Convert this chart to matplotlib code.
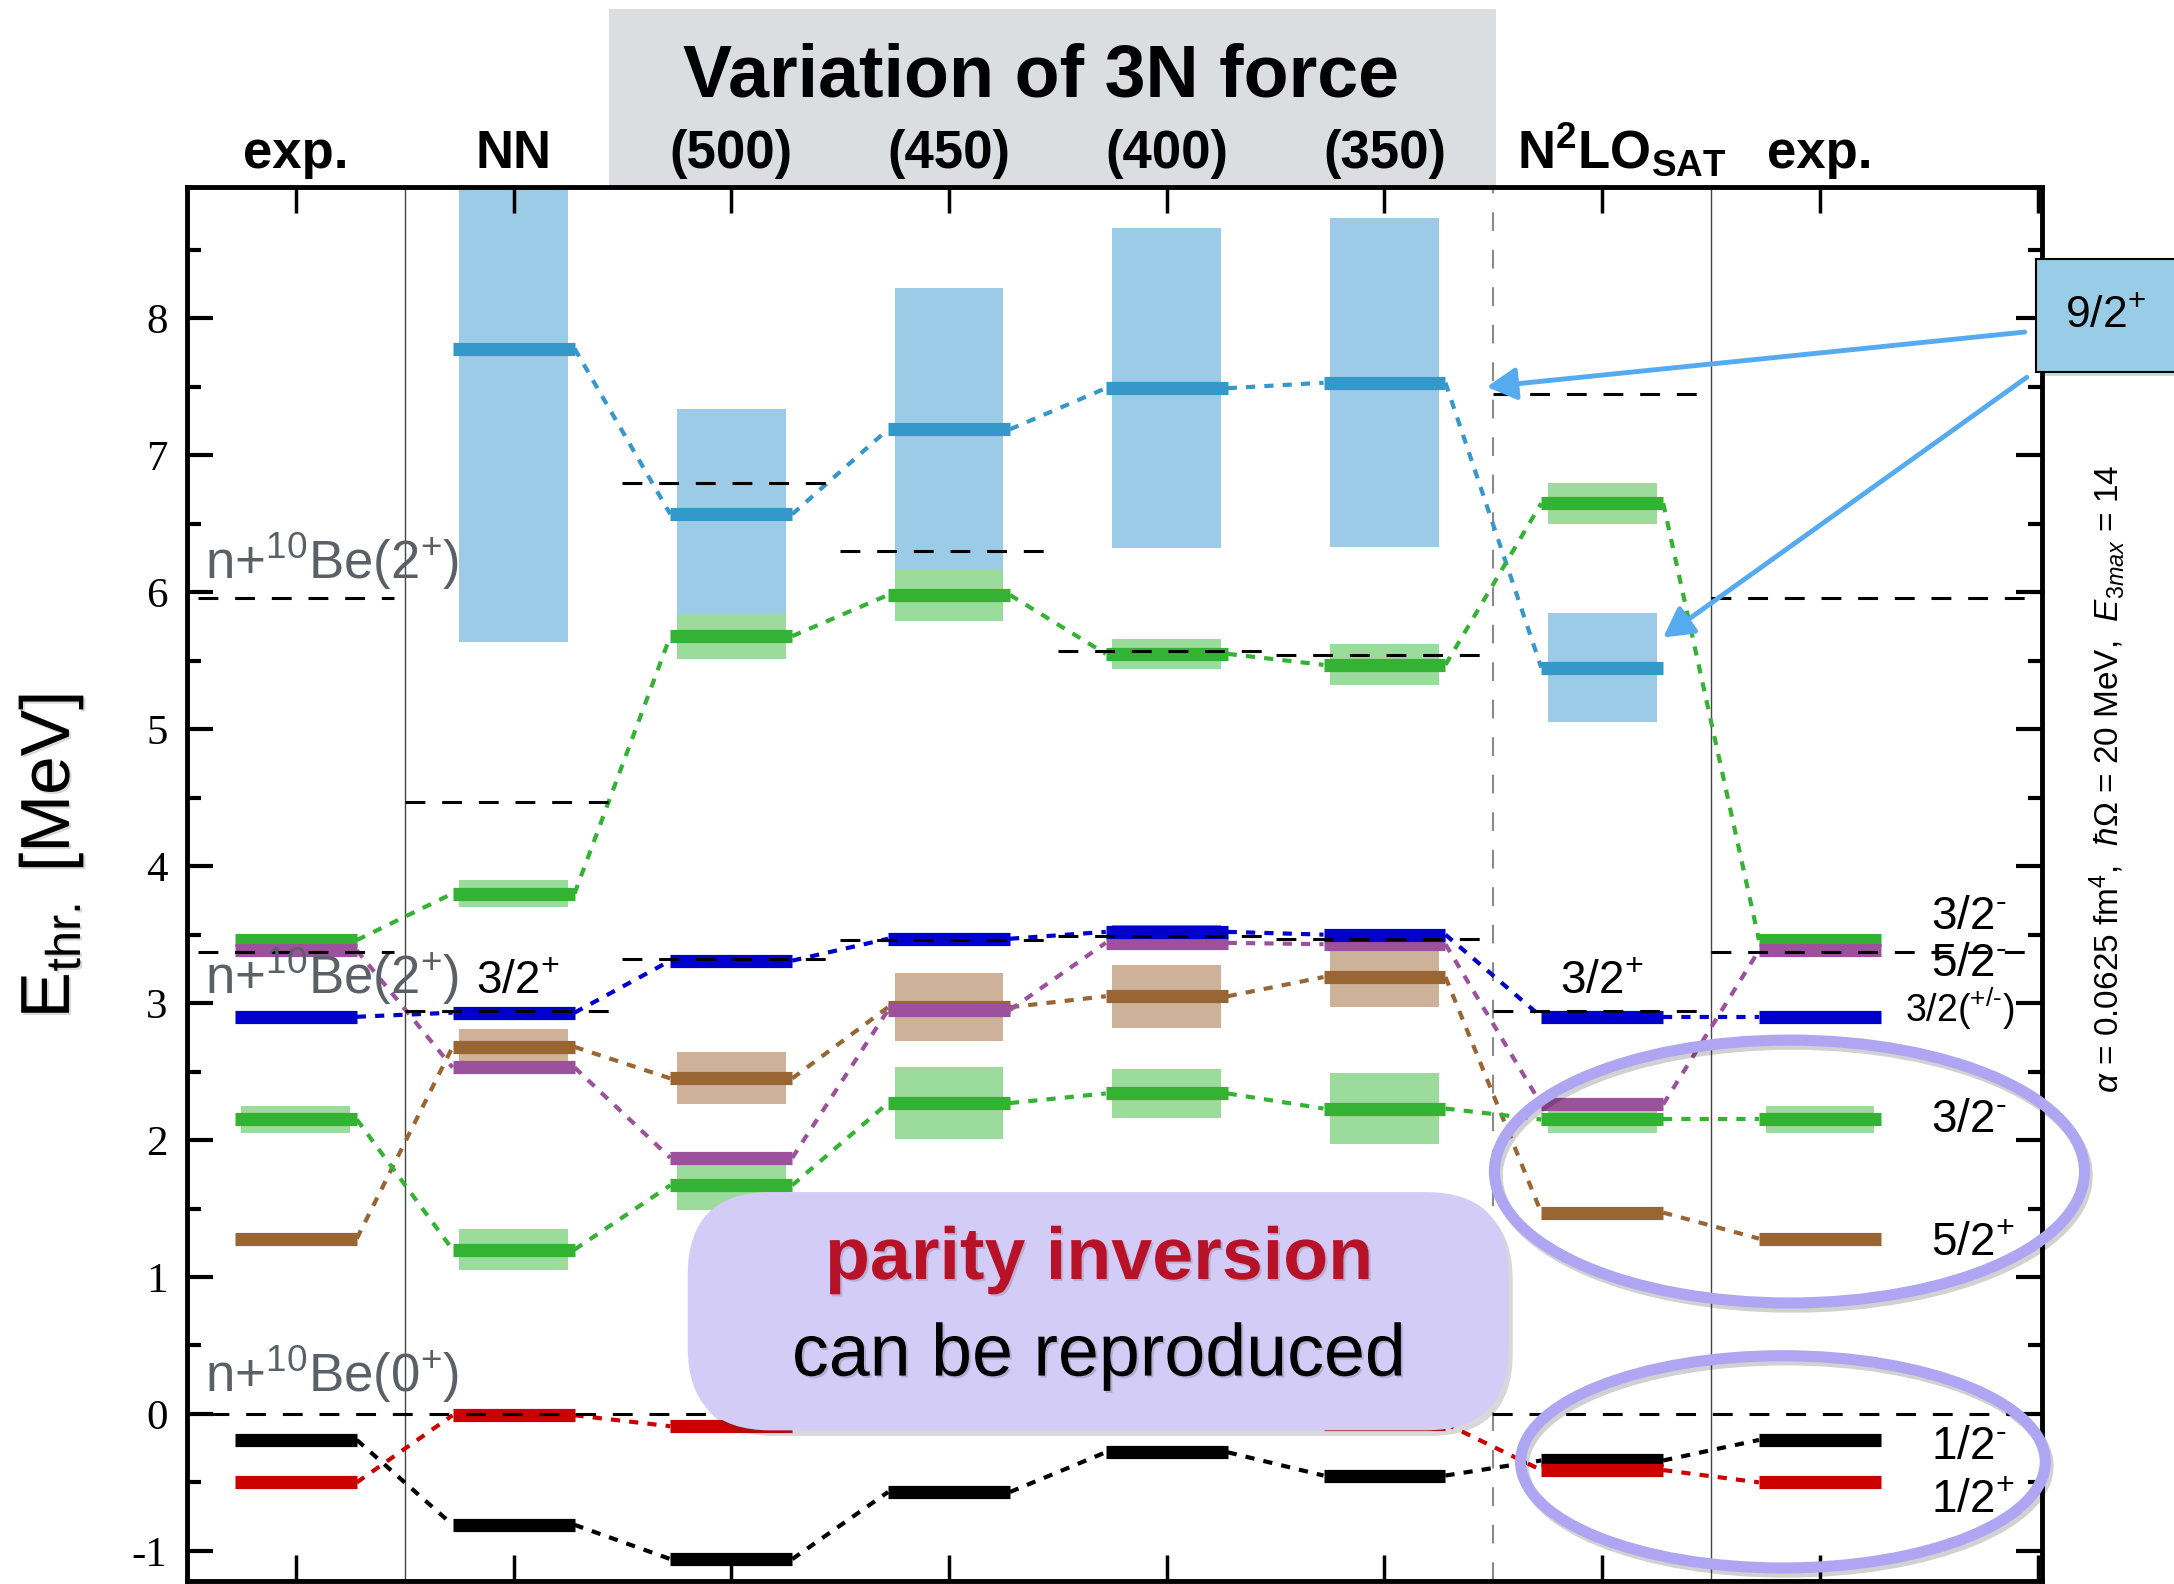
import numpy as np
import matplotlib as mpl
import matplotlib.pyplot as plt
import matplotlib.patheffects as pe
from matplotlib.patches import Rectangle, Ellipse, FancyBboxPatch
from matplotlib.ticker import MultipleLocator
from matplotlib.transforms import blended_transform_factory

mpl.rcParams['axes.unicode_minus'] = False
mpl.rcParams['font.family'] = ['Liberation Sans', 'DejaVu Sans']
mpl.rcParams['mathtext.fontset'] = 'custom'
mpl.rcParams['mathtext.rm'] = 'Liberation Sans'
mpl.rcParams['mathtext.it'] = 'Liberation Sans:italic'
mpl.rcParams['mathtext.bf'] = 'Liberation Sans:bold'

# columns: experiment, NN only, 3N cutoff variations, N2LO_sat, experiment
columns = [1, 2, 3, 4, 5, 6, 7, 8]
headers = ['exp.', 'NN', '(500)', '(450)', '(400)', '(350)',
           r'N$^{\mathbf{2}}$LO$_{\mathbf{SAT}}$', 'exp.']

nan = np.nan
# level energies [MeV] and band half-widths per column
e_92p = [nan, 7.78, 6.57, 7.19, 7.49, 7.53, 5.45, nan]
err_92p = [0, 2.14, 0.77, 1.03, 1.17, 1.20, 0.40, 0]
e_52p = [1.28, 2.68, 2.45, 2.97, 3.05, 3.19, 1.47, 1.28]
err_52p = [0, 0.13, 0.19, 0.25, 0.23, 0.22, 0, 0]
e_32m_lo = [2.15, 1.20, 1.67, 2.27, 2.34, 2.23, 2.15, 2.15]
err_32m_lo = [0.10, 0.15, 0.18, 0.26, 0.18, 0.26, 0.10, 0.10]
e_32m_hi = [3.46, 3.80, 5.68, 5.98, 5.55, 5.47, 6.65, 3.46]
err_32m_hi = [0, 0.10, 0.17, 0.19, 0.11, 0.15, 0.15, 0]
e_52m = [3.385, 2.53, 1.87, 2.95, 3.44, 3.43, 2.26, 3.385]
err_52m = [0, 0, 0, 0, 0, 0, 0, 0]
e_32p = [2.90, 2.93, 3.31, 3.47, 3.52, 3.50, 2.90, 2.90]
err_32p = [0, 0, 0, 0, 0.05, 0, 0, 0]
e_12m = [-0.19, -0.81, -1.06, -0.57, -0.28, -0.45, -0.34, -0.19]
err_12m = [0, 0, 0, 0, 0, 0, 0, 0]
e_12p = [-0.50, -0.01, -0.09, -0.05, -0.03, -0.07, -0.41, -0.50]
err_12p = [0, 0, 0, 0, 0, 0, 0, 0]

# n+10Be thresholds per column
thr_lo = [3.37, 2.94, 3.32, 3.46, 3.49, 3.47, 2.94, 3.37]
thr_hi = [5.96, 4.47, 6.80, 6.30, 5.57, 5.54, 7.45, 5.96]

right_labels = ['3/2$^{\u2010}$', '5/2$^{\u2010}$', '3/2($^{+/\u2010}$)',
                '3/2$^{\u2010}$', '5/2$^{+}$', '1/2$^{\u2010}$', '1/2$^{+}$']
right_label_e = [3.54, 3.20, 2.86, 2.06, 1.15, -0.33, -0.72]

fig = plt.figure(figsize=(21.74, 15.84), dpi=100)
ax = fig.add_axes([0.0860, 0.0019, 0.8533, 0.8801])
ax.set_xlim(0.5, 9.02)
ax.set_ylim(-1.22, 8.96)

x = np.array(columns, dtype=float)
half_bar = 0.28
band_w = 0.50
dots = (0, (2.2, 2.2))

states = [
    (e_92p, err_92p, '#3598cb', '#9ccbe7'),
    (e_52p, err_52p, '#996633', '#cdb299'),
    (e_32m_lo, err_32m_lo, '#33b233', '#9bdb9b'),
    (e_32m_hi, err_32m_hi, '#33b233', '#9bdb9b'),
    (e_52m, err_52m, '#9c519c', '#c9a6c9'),
    (e_32p, err_32p, '#0000cc', '#8080e6'),
    (e_12m, err_12m, '#000000', '#888888'),
    (e_12p, err_12p, '#cc0000', '#e68080'),
]

for e, err, col, band_col in states:
    e = np.asarray(e, float)
    err = np.asarray(err, float)
    m = err > 0
    ax.bar(x[m], 2 * err[m], bottom=e[m] - err[m], width=band_w,
           color=band_col, linewidth=0, zorder=1)
    ok = ~np.isnan(e)
    ax.hlines(e[ok], x[ok] - half_bar, x[ok] + half_bar, colors=col,
              lw=9.5, zorder=4)
    for i in range(len(x) - 1):
        if ok[i] and ok[i + 1]:
            ax.plot([x[i] + half_bar, x[i + 1] - half_bar], [e[i], e[i + 1]],
                    color=col, lw=3, ls=dots, zorder=3)

# threshold segments
dash = (0, (6.5, 5.5))
for i, c in enumerate(x):
    x0 = max(c - 0.5, 0.55)
    x1 = 8.97 if i == len(x) - 1 else c + 0.45
    ax.hlines([thr_lo[i], thr_hi[i]], x0, x1, colors='k', lw=2.2,
              linestyles=dash, zorder=5)
ax.hlines(0, 0.6, 8.97, colors='k', lw=2.2, linestyles=dash, zorder=5)

ax.axvline(1.5, color='#444444', lw=1.0, zorder=0)
ax.axvline(7.5, color='#444444', lw=1.0, zorder=0)
ax.axvline(6.5, color='#8a8a8a', lw=1.5, ls=(0, (9, 9)), zorder=0)

# axes frame and ticks
for s in ax.spines.values():
    s.set_linewidth(3.5)
ax.set_xticks(range(1, 10))
ax.set_xticklabels([])
ax.tick_params(axis='x', which='major', top=True, bottom=True,
               direction='in', length=19, width=2.5)
yt = list(range(-1, 9))
ax.set_yticks(yt)
ax.set_yticklabels([str(v) for v in yt], fontfamily='Liberation Serif',
                   fontsize=31)
ax.yaxis.set_minor_locator(MultipleLocator(0.5))
ax.tick_params(axis='y', which='major', left=True, right=True,
               direction='in', length=19, width=3, pad=14)
ax.tick_params(axis='y', which='minor', left=True, right=True,
               direction='in', length=10, width=3)

shadow_txt = [pe.withSimplePatchShadow(offset=(1.5, -1.5), alpha=0.15)]

fig.text(0.0236, 0.4596, r'E$_{\mathrm{thr.}}$ [MeV]', rotation=90,
         fontsize=50, ha='center', va='center', path_effects=shadow_txt)

# title block
fig.patches.append(Rectangle((0.2801, 0.8821), 0.4080, 0.1122,
                             transform=fig.transFigure, facecolor='#dcdde0',
                             edgecolor='none', zorder=-1))
fig.text(0.4788, 0.939, 'Variation of 3N force', fontsize=53,
         fontweight='bold', ha='center', va='baseline')
hdr = blended_transform_factory(ax.transData, fig.transFigure)
for c, h in zip(columns, headers):
    xx = c + 0.09 if c == 7 else c
    fig.text(xx, 0.894, h, transform=hdr, fontsize=38, fontweight='bold',
             ha='center', va='baseline')

# threshold labels
grey = '#5b6067'
ax.text(0.585, 6.10, r'n+$^{10}$Be(2$^{+}$)', fontsize=38, color=grey,
        va='baseline', zorder=6)
ax.text(0.585, 3.07, r'n+$^{10}$Be(2$^{+}$)', fontsize=38, color=grey,
        va='baseline', zorder=6)
ax.text(0.585, 0.16, r'n+$^{10}$Be(0$^{+}$)', fontsize=38, color=grey,
        va='baseline', zorder=6)
ax.text(2.02, 3.07, r'3/2$^{+}$', fontsize=33, ha='center', va='baseline',
        zorder=6)
ax.text(7.0, 3.07, r'3/2$^{+}$', fontsize=33, ha='center', va='baseline',
        zorder=6)

for lab, ee in zip(right_labels, right_label_e):
    small = '(' in lab
    ax.text(8.39 if small else 8.51, ee, lab, fontsize=27 if small else 33,
            va='baseline', zorder=6, clip_on=False)

# parameters of the calculation
ax.text(9.32, 4.64,
        r'$\alpha$ = 0.0625 fm$^4$,  $\hbar\Omega$ = 20 MeV,  $E_{3max}$ = 14',
        rotation=90, fontsize=24, ha='center', va='center', clip_on=False)

# 9/2+ callout
box92 = Rectangle((8.99, 7.61), 0.75, 0.82, facecolor='#99cce6',
                  edgecolor='k', lw=1.5, zorder=10, clip_on=False,
                  path_effects=[pe.SimplePatchShadow(offset=(3, -3), alpha=0.2),
                                pe.Normal()])
ax.add_patch(box92)
ax.text(9.31, 8.02, r'9/2$^{+}$', fontsize=32, ha='center', va='center',
        zorder=11, clip_on=False)
arrow = dict(arrowstyle='-|>,head_length=0.4,head_width=0.22',
             color='#55aaf0', lw=3.5, mutation_scale=45, shrinkA=0, shrinkB=0)
ax.annotate('', xy=(6.47, 7.50), xytext=(8.94, 7.90), arrowprops=arrow,
            annotation_clip=False, zorder=9)
ax.annotate('', xy=(7.28, 5.67), xytext=(8.95, 7.57), arrowprops=arrow,
            annotation_clip=False, zorder=9)

# highlight ellipses
ring_fx = [pe.SimpleLineShadow(offset=(2, -3), alpha=0.18), pe.Normal()]
for (cx, cy), w, h in [((7.86, 1.77), 2.71, 1.92), ((7.83, -0.35), 2.41, 1.55)]:
    ax.add_patch(Ellipse((cx, cy), w, h, fill=False, edgecolor='#b0a5f3',
                         lw=8, zorder=7, clip_on=False, path_effects=ring_fx))

# message box
msg = FancyBboxPatch((2.80, -0.12), 3.77, 1.74,
                     boxstyle='round,pad=0,rounding_size=0.38',
                     mutation_aspect=1.59, facecolor='#d2ccf6',
                     edgecolor='none', zorder=8,
                     path_effects=[pe.SimplePatchShadow(offset=(3, -4), alpha=0.2),
                                   pe.Normal()])
ax.add_patch(msg)
ax.text(4.69, 0.985, 'parity inversion', fontsize=53, fontweight='bold',
        color='#b81228', ha='center', va='baseline', zorder=9,
        path_effects=shadow_txt)
ax.text(4.69, 0.28, 'can be reproduced', fontsize=53, color='k',
        ha='center', va='baseline', zorder=9, path_effects=shadow_txt)

fig.savefig('out.png', dpi=100)
